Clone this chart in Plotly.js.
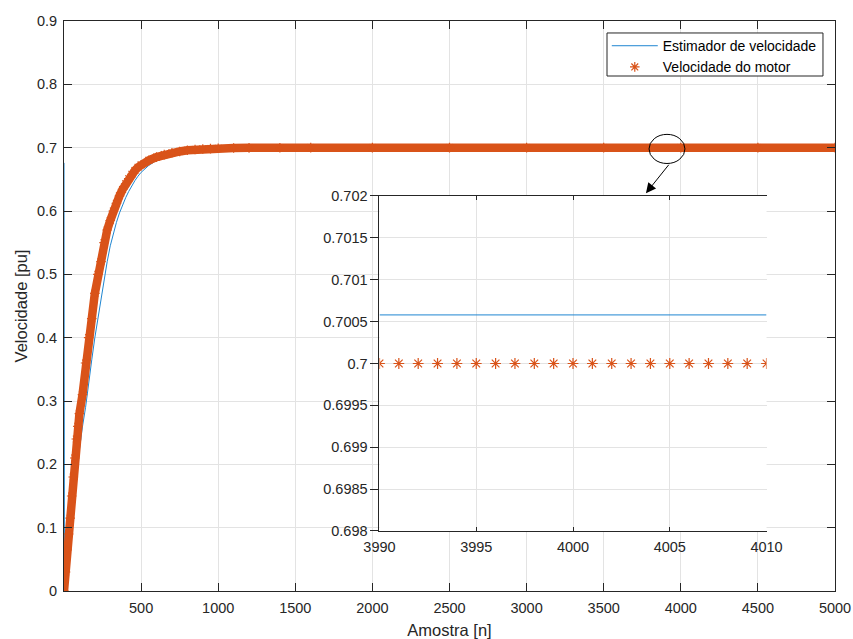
<!DOCTYPE html>
<html>
<head>
<meta charset="utf-8">
<script src="https://cdn.plot.ly/plotly-3.0.1.min.js"></script>
<style>html,body{margin:0;padding:0;background:#fff;}#chart{width:853px;height:639px;}</style>
</head>
<body>
<div id="chart"></div>
<script>
// ---- data ----
const motorN = [0,10,20,30,40,50,60,70,80,90,100,120,140,160,180,200,220,240,260,280,300,320,340,360,380,400,420,440,460,480,500,550,600,650,700,750,800,850,900,950,1000,1100,1200,1400,1600,2000,2500,3000,3500,4000,4500,5000];
const motorV = [0,0.03,0.065,0.09,0.115,0.15,0.18,0.21,0.24,0.26,0.28,0.31,0.36,0.40,0.43,0.47,0.50,0.52,0.55,0.57,0.585,0.60,0.612,0.624,0.634,0.643,0.651,0.658,0.664,0.669,0.673,0.680,0.685,0.689,0.692,0.694,0.696,0.697,0.698,0.6985,0.699,0.6995,0.6997,0.6999,0.7,0.7,0.7,0.7,0.7,0.7,0.7,0.7];

const estN = [0,3,10,20,30,40,50,60,70,80,90,100,120,140,160,180,200,220,240,260,280,300,320,340,360,380,400,420,440,460,480,500,550,600,650,700,750,800,850,900,950,1000,1100,1200,1400,1600,2000,2500,3000,3500,4000,4500,5000];
const estV = [0.676,0.005,0.01,0.025,0.045,0.07,0.10,0.13,0.155,0.18,0.205,0.225,0.26,0.29,0.33,0.365,0.40,0.43,0.465,0.495,0.52,0.545,0.565,0.582,0.597,0.61,0.621,0.631,0.64,0.648,0.655,0.661,0.672,0.68,0.685,0.689,0.692,0.695,0.697,0.698,0.699,0.6995,0.7,0.7003,0.7005,0.70058,0.70058,0.70058,0.70058,0.70058,0.70058,0.70058,0.70058];

// inset (zoom) data
const insetEstN = [3990,4010];
const insetEstV = [0.70058,0.70058];
const insetMotorN = [3990,3991,3992,3993,3994,3995,3996,3997,3998,3999,4000,4001,4002,4003,4004,4005,4006,4007,4008,4009,4010];
const insetMotorV = [0.7,0.7,0.7,0.7,0.7,0.7,0.7,0.7,0.7,0.7,0.7,0.7,0.7,0.7,0.7,0.7,0.7,0.7,0.7,0.7,0.7];

// tick labels
const mainXTicks = [500,1000,1500,2000,2500,3000,3500,4000,4500,5000];
const mainYTicks = [0,0.1,0.2,0.3,0.4,0.5,0.6,0.7,0.8,0.9];
const mainYText = ['0','0.1','0.2','0.3','0.4','0.5','0.6','0.7','0.8','0.9'];
const insetXTicks = [3990,3995,4000,4005,4010];
const insetYTicks = [0.698,0.6985,0.699,0.6995,0.7,0.7005,0.701,0.7015,0.702];
const insetYText = ['0.698','0.6985','0.699','0.6995','0.7','0.7005','0.701','0.7015','0.702'];

const seriesNames = ['Estimador de velocidade','Velocidade do motor'];

// ---- styling ----
const BLUE = '#1f86d1';
const ORANGE = '#D95319';
const AX = '#262626';
const GRID = '#e3e3e3';
const FONT = 'Liberation Sans, Arial, sans-serif';

const traces = [
  {x: estN, y: estV, type: 'scatter', mode: 'lines', name: seriesNames[0],
   line: {color: BLUE, width: 1}, xaxis: 'x', yaxis: 'y'},
  {x: motorN, y: motorV, type: 'scatter', mode: 'lines', showlegend: false,
   line: {color: ORANGE, width: 8.5}, xaxis: 'x', yaxis: 'y', hoverinfo: 'skip'},
  {x: motorN, y: motorV, type: 'scatter', mode: 'markers', name: seriesNames[1],
   marker: {symbol: 'asterisk-open', size: 8, color: ORANGE, line: {color: ORANGE, width: 1.2}},
   xaxis: 'x', yaxis: 'y'},
  {x: insetEstN, y: insetEstV, type: 'scatter', mode: 'lines', showlegend: false,
   line: {color: BLUE, width: 1}, xaxis: 'x2', yaxis: 'y2'},
  {x: insetMotorN, y: insetMotorV, type: 'scatter', mode: 'markers', showlegend: false,
   marker: {symbol: 'asterisk-open', size: 9, color: ORANGE, line: {color: ORANGE, width: 1.2}},
   xaxis: 'x2', yaxis: 'y2'}
];

const tickFont = {family: FONT, size: 14.5, color: AX};

const layout = {
  width: 853, height: 639,
  margin: {l: 64, r: 18, t: 21, b: 48},
  paper_bgcolor: '#fff', plot_bgcolor: '#fff',
  font: {family: FONT, color: AX},
  showlegend: true,
  legend: {x: 0.704, y: 0.984, xanchor: 'left', yanchor: 'top',
    bgcolor: 'rgba(0,0,0,0)', borderwidth: 0,
    font: {family: FONT, size: 14, color: '#000'}, itemwidth: 46},
  xaxis: {domain: [0,1], range: [0,5000], tickvals: mainXTicks, ticks: 'inside', ticklen: 8,
    tickcolor: AX, mirror: 'ticks', showline: true, linecolor: AX, linewidth: 1,
    showgrid: true, gridcolor: GRID, zeroline: false, tickfont: tickFont, anchor: 'y',
    ticklabelstandoff: 4,
    title: {text: 'Amostra [n]', font: {family: FONT, size: 16.5, color: AX}, standoff: 12}},
  yaxis: {domain: [0,1], range: [0,0.9], tickvals: mainYTicks, ticktext: mainYText, ticks: 'inside', ticklen: 8,
    tickcolor: AX, mirror: 'ticks', showline: true, linecolor: AX, linewidth: 1,
    showgrid: true, gridcolor: GRID, zeroline: false, tickfont: tickFont, anchor: 'x',
    ticklabelstandoff: 3,
    title: {text: 'Velocidade [pu]', font: {family: FONT, size: 16.5, color: AX}, standoff: 5}},
  xaxis2: {domain: [0.4092,0.9112], range: [3990,4010], tickvals: insetXTicks, ticks: 'inside', ticklen: 4,
    tickcolor: AX, mirror: 'ticks', showline: true, linecolor: AX, linewidth: 1,
    showgrid: true, gridcolor: GRID, zeroline: false, tickfont: tickFont, anchor: 'y2',
    ticklabelstandoff: 3},
  yaxis2: {domain: [0.1053,0.693], range: [0.698,0.702], tickvals: insetYTicks, ticktext: insetYText,
    ticks: 'outside', ticklen: 8, tickcolor: AX, showline: true, linecolor: AX, linewidth: 1,
    showgrid: true, gridcolor: GRID, zeroline: false, tickfont: tickFont, anchor: 'x2'},
  yaxis3: {overlaying: 'y2', side: 'right', anchor: 'x2', range: [0.698,0.702], tickvals: insetYTicks,
    ticks: 'inside', ticklen: 5, tickcolor: AX, showline: true, linecolor: AX, linewidth: 1,
    showgrid: false, zeroline: false, showticklabels: false},
  shapes: [
    // legend frame
    {type: 'rect', xref: 'paper', yref: 'paper', x0: 0.7043, x1: 0.9844, y0: 0.9035, y1: 0.979,
     line: {color: AX, width: 1}, fillcolor: '#fff', layer: 'above'},
    {type: 'circle', xref: 'x', yref: 'y', x0: 3794, x1: 4027, y0: 0.675, y1: 0.721,
     line: {color: '#000', width: 1}, fillcolor: 'rgba(0,0,0,0)'}
  ],
  annotations: [
    {xref: 'x', yref: 'y', x: 3774, y: 0.628, ax: 24, ay: -30, text: '', showarrow: true,
     arrowhead: 2, arrowsize: 2, arrowwidth: 1, arrowcolor: '#000'}
  ]
};

Plotly.newPlot('chart', traces, layout, {displayModeBar: false, staticPlot: true});
</script>
</body>
</html>
